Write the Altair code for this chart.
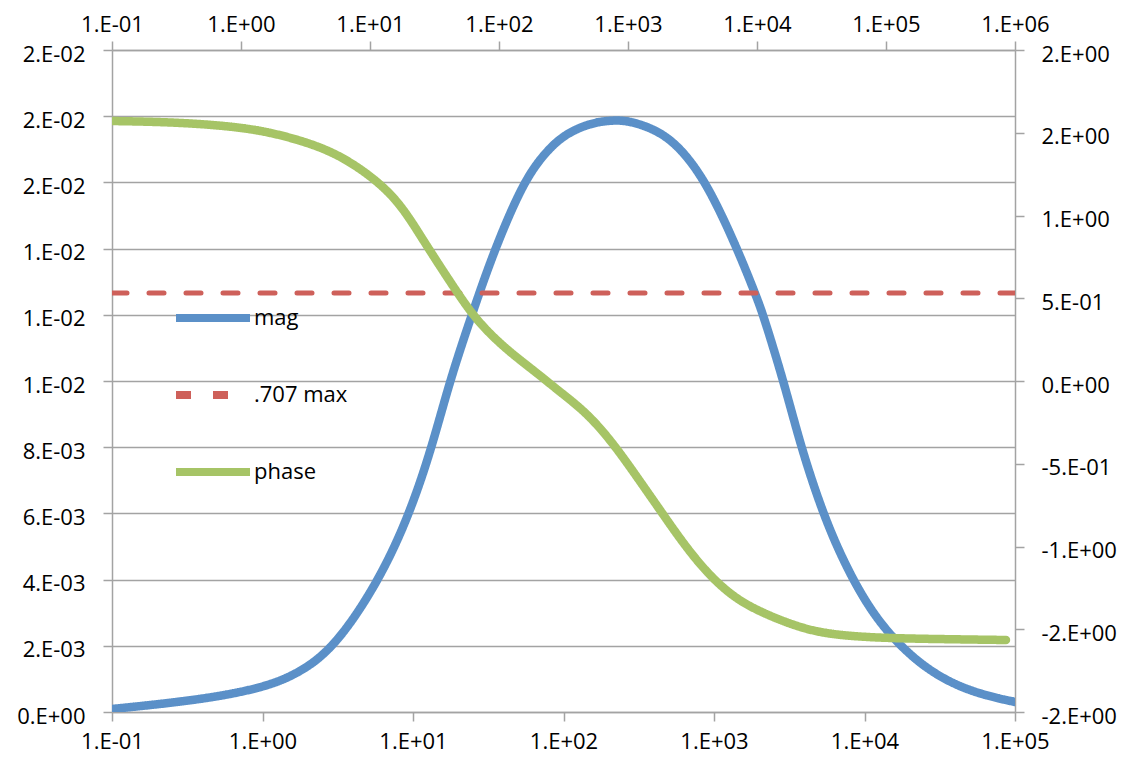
import altair as alt
import pandas as pd

# ---------------- data ----------------
mag_freq = [0.1, 0.385, 1.008, 1.775, 3.08, 6.04, 9.55, 13.37, 17.62, 24.66, 35.08,
            53.83, 73.1, 99.3, 150, 213, 277, 418, 594, 898, 1422, 1872, 2117, 2922,
            3726, 4831, 6180, 8017, 10390, 14125, 22330, 36980, 61240, 100000]
mag_vals = [0.0000906, 0.000363, 0.000725, 0.001178, 0.001994, 0.004018, 0.006012,
            0.008006, 0.01003, 0.012024, 0.014018, 0.015982, 0.016828, 0.017432,
            0.017794, 0.017885, 0.017855, 0.017583, 0.017069, 0.015982, 0.014018,
            0.012658, 0.012024, 0.009939, 0.008127, 0.006526, 0.005257, 0.004169,
            0.003263, 0.002417, 0.001511, 0.000876, 0.000514, 0.000302]

phase_freq = [0.1, 0.2667, 0.6516, 1.403, 2.864, 5.164, 8.831, 16.18, 25.76, 39.54,
              56.49, 75.16, 115.3, 197.2, 297.2, 480.8, 765.6, 1175, 1770, 2667,
              4093, 6516, 10540, 21528, 38815, 94842, 231206, 851138]
phase_vals = [1.571, 1.565, 1.547, 1.517, 1.456, 1.384, 1.275, 1.106, 0.852, 0.628,
              0.447, 0.326, 0.187, 0.048, -0.066, -0.193, -0.375, -0.58, -0.779,
              -0.979, -1.16, -1.305, -1.396, -1.492, -1.535, -1.553, -1.559, -1.565]

thr_freq = [0.1, 100000]
thr_vals = [0.012658, 0.012658]

series_names = ["mag", ".707 max", "phase"]
series_colors = ["#5b90c8", "#ce605a", "#a6c466"]

bottom_ticks = [0.1, 1, 10, 100, 1000, 10000, 100000]
top_ticks = [0.1, 1, 10, 100, 1000, 10000, 100000, 1000000]
left_ticks = [0, 0.002, 0.004, 0.006, 0.008, 0.01, 0.012, 0.014, 0.016, 0.018, 0.02]
right_ticks = [-2, -1.5, -1, -0.5, 0, 0.5, 1, 1.5, 2]

# ---------------- tables ----------------
mag_df = pd.DataFrame({"freq": mag_freq, "value": mag_vals, "series": "mag"})
thr_df = pd.DataFrame({"freq": thr_freq, "value": thr_vals, "series": ".707 max"})
phase_df = pd.DataFrame({"freq": phase_freq, "value": phase_vals, "series": "phase"})

# Excel style "0.E+00" labels
_m = "format(abs(datum.value), '.0e')"
_e = f"toNumber(split({_m}, 'e')[1])"
excel_fmt = (
    f"(datum.value < 0 ? '-' : '') + split({_m}, 'e')[0] + '.E' + "
    f"({_e} < 0 ? '-' : '+') + (abs({_e}) < 10 ? '0' : '') + abs({_e})"
)

GRAY = "#a3a3a3"
FONT = "Open Sans"

color_scale = alt.Scale(domain=series_names, range=series_colors)
dash_scale = alt.Scale(domain=series_names, range=[[1, 0], [15, 22], [1, 0]])

color_enc = alt.Color("series:N", scale=color_scale, title=None)
dash_enc = alt.StrokeDash("series:N", scale=dash_scale, title=None)

x_bottom = alt.X(
    "freq:Q",
    scale=alt.Scale(type="log", domain=[0.1, 100000], nice=False),
    axis=alt.Axis(orient="bottom", values=bottom_ticks, labelExpr=excel_fmt, title=None,
                  grid=False, labelPadding=10, labelFlush=False, labelOverlap=False),
)
y_left = alt.Y(
    "value:Q",
    scale=alt.Scale(domain=[0, 0.02], nice=False, zero=False),
    axis=alt.Axis(orient="left", values=left_ticks, labelExpr=excel_fmt, title=None,
                  grid=True, gridColor=GRAY, gridWidth=1.5, labelPadding=18,
                  labelOffset=4, labelOverlap=False),
)

mag = alt.Chart(mag_df).mark_line(
    strokeWidth=8.5, strokeCap="round", strokeJoin="round", interpolate="basis", clip=True
).encode(x=x_bottom, y=y_left, color=color_enc, strokeDash=dash_enc)

thr = alt.Chart(thr_df).mark_line(strokeWidth=5, strokeCap="round", clip=True).encode(
    x=alt.X("freq:Q", scale=alt.Scale(type="log", domain=[0.1, 100000], nice=False), axis=None),
    y=alt.Y("value:Q", scale=alt.Scale(domain=[0, 0.02], nice=False, zero=False), axis=None),
    color=color_enc,
    strokeDash=dash_enc,
)

phase = alt.Chart(phase_df).mark_line(
    strokeWidth=8.5, strokeCap="round", strokeJoin="round", interpolate="basis", clip=True
).encode(
    x=alt.X(
        "freq:Q",
        scale=alt.Scale(type="log", domain=[0.1, 1000000], nice=False),
        axis=alt.Axis(orient="top", values=top_ticks, labelExpr=excel_fmt, title=None,
                      grid=False, labelPadding=5, labelFlush=False, labelOverlap=False),
    ),
    y=alt.Y(
        "value:Q",
        scale=alt.Scale(domain=[-2, 2], nice=False, zero=False),
        axis=alt.Axis(orient="right", values=right_ticks, labelExpr=excel_fmt, title=None,
                      grid=False, labelPadding=17, labelOffset=4, labelOverlap=False),
    ),
    color=color_enc,
    strokeDash=dash_enc,
)

chart = (
    alt.layer(mag, thr, phase)
    .resolve_scale(x="independent", y="independent")
    .properties(
        width=903,
        height=662,
        autosize=alt.AutoSizeParams(type="none"),
        padding={"left": 104, "top": 42, "right": 104, "bottom": 42},
    )
    .configure_view(stroke=None)
    .configure_axis(
        domainColor=GRAY, domainWidth=1.5, tickColor=GRAY, tickWidth=1.5, tickSize=9,
        labelFont=FONT, labelFontSize=22, labelColor="#000000",
    )
    .configure_legend(
        orient="none", legendX=60, legendY=227, padding=0,
        symbolType="stroke", symbolSize=5476, symbolStrokeWidth=8,
        labelFont=FONT, labelFontSize=22, labelColor="#000000", labelOffset=0,
        rowPadding=20, title=None,
    )
)

chart.save("out.html", embed_options={"renderer": "svg", "actions": False})
